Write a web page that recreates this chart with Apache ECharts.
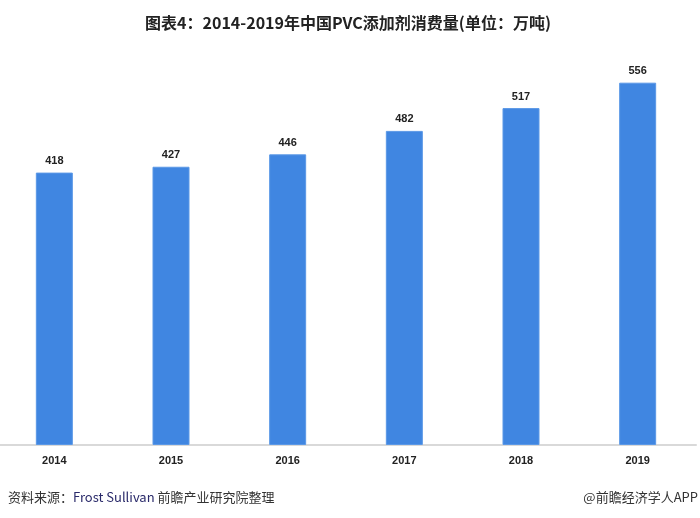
<!DOCTYPE html>
<html><head><meta charset="utf-8">
<script src="https://cdn.jsdelivr.net/npm/echarts@6/dist/echarts.min.js"></script>
<style>html,body{margin:0;padding:0;background:#fff;overflow:hidden}#c{position:absolute;left:-4px;top:0;width:704px;height:518px}</style>
</head><body><div id="c"></div>
<script>
const categories = ['2014','2015','2016','2017','2018','2019'];
const values = [418, 427, 446, 482, 517, 556];
const titleText = '图表4：2014-2019年中国PVC添加剂消费量(单位：万吨)';
const chart = echarts.init(document.getElementById('c'));
chart.setOption({
  backgroundColor: '#fff',
  animation: false,
  title: {
    text: titleText, left: 'center', top: 10,
    textStyle: {fontSize: 16, fontWeight: 'bold', color: '#222', fontFamily: '"Noto Sans CJK SC", sans-serif'}
  },
  graphic: [
    {type: 'text', left: 12, top: 491, style: {
      rich: {a: {fill: '#333', fontSize: 13, fontFamily: '"Noto Sans CJK SC", sans-serif'},
             b: {fill: '#2a2a6a', fontSize: 13, fontFamily: '"Noto Sans CJK SC", sans-serif'}},
      text: '{a|资料来源：}{b|Frost Sullivan }{a|前瞻产业研究院整理}'}},
    {type: 'text', right: 2, top: 491, style: {text: '@前瞻经济学人APP', fill: '#333', fontSize: 13, fontFamily: '"Noto Sans CJK SC", sans-serif'}}
  ],
  grid: {left: 0, right: 4, top: 54, bottom: 73, containLabel: false},
  xAxis: {
    type: 'category', data: categories,
    axisLine: {lineStyle: {color: '#d9d9d9', width: 2}},
    axisTick: {show: false},
    axisLabel: {color: '#222', fontWeight: 'bold', fontSize: 11, margin: 10, fontFamily: 'Liberation Sans, sans-serif'}
  },
  yAxis: {type: 'value', min: 0, max: 600, show: false, splitLine: {show: false}},
  series: [{
    type: 'bar', data: values, barWidth: 37,
    itemStyle: {color: '#4086e1', borderColor: '#5b98e6', borderWidth: 1},
    label: {show: true, position: 'top', distance: 6, color: '#222', fontWeight: 'bold', fontSize: 11, fontFamily: 'Liberation Sans, sans-serif'}
  }]
});
</script></body></html>
